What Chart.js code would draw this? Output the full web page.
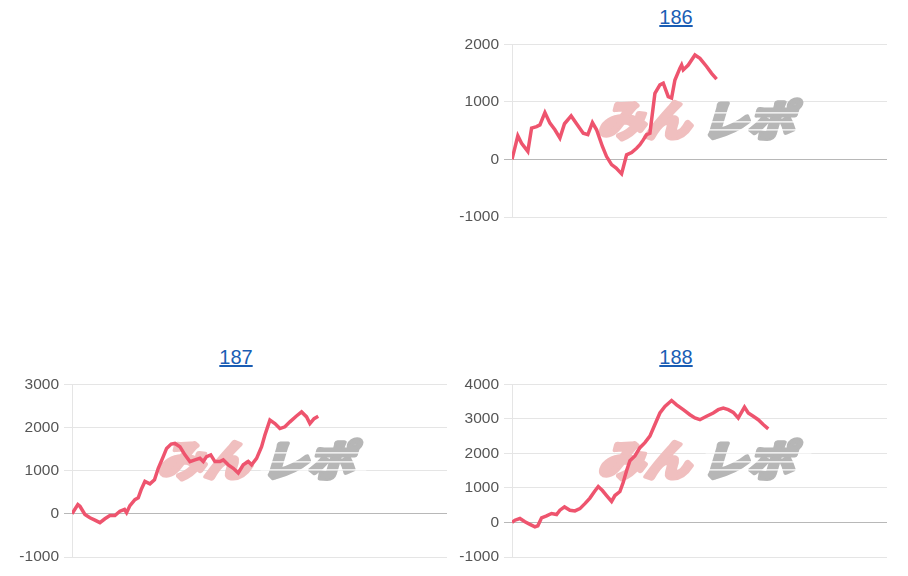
<!DOCTYPE html>
<html>
<head>
<meta charset="utf-8">
<script src="https://cdn.jsdelivr.net/npm/chart.js@4"></script>
<style>
    body { margin: 0; background: #fff; font-family: "Liberation Sans", Arial, sans-serif; }
    .page { position: relative; width: 908px; height: 576px; overflow: hidden; }
    .title { position: absolute; width: 440px; text-align: center; font-size: 20px; line-height: 24px; }
    .title a { color: #1a5db4; text-decoration: underline; }
    .box { position: absolute; width: 440px; height: 206px; }
</style>
</head>
<body>
<div class="page">
    <div class="title" style="left:456px; top:5px;"><a href="#">186</a></div>
    <div class="box" style="left:456px; top:30px;"><canvas id="c186"></canvas></div>

    <div class="title" style="left:16px; top:345px;"><a href="#">187</a></div>
    <div class="box" style="left:16px; top:370px;"><canvas id="c187"></canvas></div>

    <div class="title" style="left:456px; top:345px;"><a href="#">188</a></div>
    <div class="box" style="left:456px; top:370px;"><canvas id="c188"></canvas></div>
</div>
<script>
// Slot graphs - difference in medals per game count

const gameMax = 9000;

const games186 = [0, 140, 230, 380, 470, 590, 670, 790, 910, 1030, 1150, 1260, 1420, 1550, 1710, 1820, 1930, 2030, 2170, 2270,
    2390, 2500, 2630, 2750, 2870, 2990, 3070, 3150, 3230, 3310, 3430, 3550, 3630, 3750, 3830, 3910, 4030, 4070, 4110, 4230,
    4390, 4510, 4670, 4790, 4910];
const diff186 = [0, 410, 280, 140, 545, 570, 600, 815, 630, 515, 370, 620, 755, 620, 455, 430, 640, 515, 225, 50,
    -90, -150, -250, 80, 120, 195, 255, 340, 430, 455, 1150, 1295, 1325, 1090, 1065, 1380, 1585, 1640, 1555, 1640,
    1815, 1755, 1615, 1495, 1395];
const ticks186 = [-1000, 0, 1000, 2000];

const games187 = [0, 140, 190, 310, 430, 550, 670, 790, 910, 1030, 1150, 1260, 1310, 1390, 1510, 1590, 1660, 1750, 1870, 1980,
    2070, 2190, 2270, 2380, 2470, 2590, 2710, 2830, 2950, 3070, 3150, 3230, 3330, 3430, 3550, 3630, 3750, 3870, 3990, 4110,
    4230, 4310, 4430, 4550, 4630, 4750, 4870, 4990, 5110, 5230, 5380, 5510, 5630, 5710, 5810, 5910];
const diff187 = [0, 215, 175, -15, -90, -145, -205, -115, -40, -40, 60, 100, 25, 190, 330, 370, 560, 750, 695, 790,
    1055, 1325, 1515, 1615, 1630, 1555, 1365, 1210, 1250, 1285, 1210, 1325, 1365, 1210, 1210, 1250, 1135, 1055, 945, 1135,
    1210, 1135, 1285, 1555, 1825, 2170, 2090, 1975, 2015, 2130, 2260, 2360, 2245, 2090, 2205, 2260];
const ticks187 = [-1000, 0, 1000, 2000, 3000];

const games188 = [0, 70, 190, 310, 430, 550, 620, 710, 830, 950, 1070, 1150, 1260, 1390, 1510, 1630, 1750, 1870, 1980, 2070,
    2170, 2270, 2390, 2470, 2590, 2670, 2750, 2830, 2950, 3070, 3190, 3310, 3430, 3550, 3670, 3830, 3950, 4110, 4270, 4390,
    4510, 4670, 4830, 4950, 5070, 5190, 5310, 5430, 5500, 5580, 5670, 5790, 5910, 6030, 6150];
const diff188 = [0, 65, 115, 20, -55, -125, -95, 135, 190, 260, 230, 355, 450, 355, 335, 400, 545, 705, 895, 1040,
    925, 780, 610, 780, 895, 1165, 1500, 1785, 1925, 2165, 2310, 2500, 2835, 3170, 3360, 3530, 3405, 3265, 3120, 3025,
    2975, 3075, 3170, 3265, 3310, 3265, 3185, 3025, 3170, 3340, 3170, 3075, 2975, 2835, 2710];
const ticks188 = [-1000, 0, 1000, 2000, 3000, 4000];

// Watermark logo drawn behind the line
const logoPlugin = {
    id: 'logo',
    beforeDatasetsDraw(chart) {
        const ctx = chart.ctx;
        const area = chart.chartArea;
        const cx = (area.left + area.right) / 2;
        const cy = area.top + 75;
        ctx.save();
        ctx.translate(cx, cy);
        ctx.transform(1.1, 0, -0.3, 1, 0, 0);
        ctx.font = 'bold 42px "Noto Sans CJK JP"';
        ctx.textBaseline = 'middle';
        ctx.lineJoin = 'round';
        ctx.lineWidth = 5;

        ctx.textAlign = 'right';
        ctx.fillStyle = ctx.strokeStyle = '#f0bfbf';
        ctx.strokeText('みん', -4, 1);
        ctx.fillText('みん', -4, 1);

        ctx.textAlign = 'left';
        ctx.fillStyle = ctx.strokeStyle = '#b6b6b6';
        ctx.strokeText('レポ', 6, 1);
        ctx.fillText('レポ', 6, 1);

        // speed lines through the grey part
        ctx.fillStyle = '#fff';
        [-7, 2, 10].forEach(dy => ctx.fillRect(4, dy, 96, 1.2));
        ctx.restore();
    }
};

function makeChart(id, games, diff, ticks) {
    const points = games.map((g, i) => ({ x: g, y: diff[i] }));
    return new Chart(document.getElementById(id), {
        type: 'line',
        data: {
            datasets: [{
                data: points,
                borderColor: 'rgb(238, 84, 110)',
                borderWidth: 3.5,
                pointRadius: 0,
                tension: 0
            }]
        },
        options: {
            responsive: true,
            maintainAspectRatio: false,
            animation: false,
            layout: { padding: { top: 12.7, bottom: 19, left: 0, right: 9 } },
            plugins: {
                legend: { display: false },
                tooltip: { enabled: false }
            },
            scales: {
                x: { type: 'linear', min: 0, max: gameMax, display: false },
                y: {
                    min: ticks[0],
                    max: ticks[ticks.length - 1],
                    afterBuildTicks: scale => { scale.ticks = ticks.map(v => ({ value: v })); },
                    afterFit: scale => { scale.width = 56; },
                    ticks: {
                        color: '#555',
                        padding: 5,
                        font: { family: '"Liberation Sans", Arial, sans-serif', size: 15.5 },
                        callback: v => String(v)
                    },
                    grid: {
                        color: ctx => ctx.tick && ctx.tick.value === 0 ? 'rgba(0,0,0,0.28)' : 'rgba(0,0,0,0.1)'
                    },
                    border: { color: 'rgba(0,0,0,0.1)' }
                }
            }
        },
        plugins: [logoPlugin]
    });
}

makeChart('c186', games186, diff186, ticks186);
makeChart('c187', games187, diff187, ticks187);
makeChart('c188', games188, diff188, ticks188);
</script>
</body>
</html>
